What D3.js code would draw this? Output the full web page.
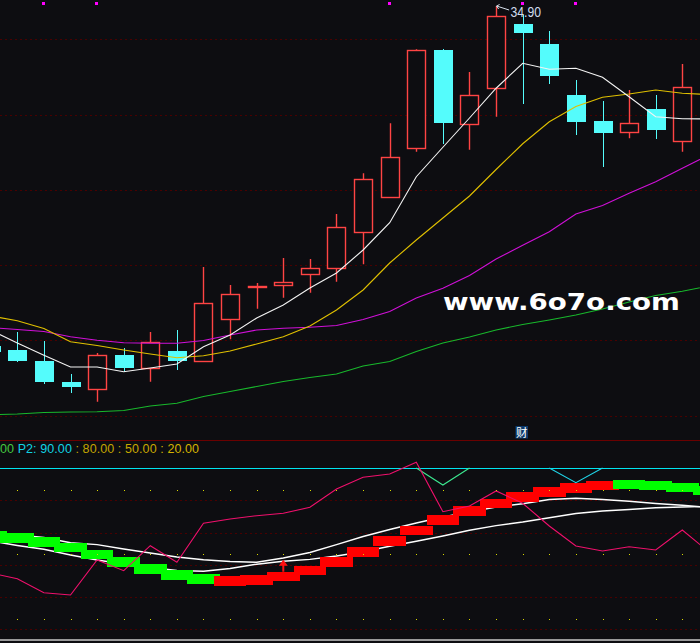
<!DOCTYPE html>
<html><head><meta charset="utf-8">
<script src="https://cdn.jsdelivr.net/npm/d3@7"></script>
<style>html,body{margin:0;padding:0;background:#0d0d11;overflow:hidden}svg{display:block}</style>
</head><body><svg id="c" width="700" height="643"></svg>
<script>
// ---------- data (bar index -1 .. 26) ----------
const bars = d3.range(-1, 27);
const open  = [21.30,21.14,20.70,19.86,19.57,20.94,20.39,21.10,20.69,22.37,23.66,23.73,24.17,24.41,25.85,27.25,29.21,33.14,30.17,31.61,34.18,33.38,31.34,30.30,29.85,30.78,29.49,31.62];
const high  = [21.54,21.86,21.50,20.18,21.02,21.22,21.86,21.94,24.46,23.74,23.82,24.82,24.78,26.58,28.21,30.21,33.17,33.17,32.26,34.90,34.54,33.90,31.94,31.10,31.54,31.34,32.58,31.94];
const low   = [20.90,20.67,19.79,19.43,19.07,20.25,19.87,20.35,20.66,21.57,22.79,23.23,23.43,23.87,24.57,27.22,29.07,29.39,29.15,30.47,30.99,31.79,29.75,28.47,29.61,29.59,29.07,29.94];
const close = [21.06,20.71,19.87,19.67,20.93,20.43,21.45,20.71,23.01,23.37,23.70,23.85,24.41,26.05,27.97,28.85,33.13,30.23,31.33,34.50,33.83,32.11,30.27,29.83,30.21,29.95,31.65,30.23];
const ma5   = [21.94,21.42,20.93,20.46,20.46,20.27,20.42,20.58,21.27,21.74,22.42,22.94,23.62,24.22,25.14,26.23,28.07,29.25,30.42,31.61,32.61,32.37,32.41,32.05,31.27,30.47,30.39,30.38];
const ma10  = [22.50,22.31,22.00,21.47,21.32,21.14,20.98,20.83,20.91,21.10,21.38,21.67,22.10,22.74,23.54,24.62,25.54,26.42,27.30,28.36,29.39,30.27,30.88,31.25,31.38,31.54,31.41,31.36];
const ma20  = [22.04,21.96,21.88,21.67,21.53,21.43,21.41,21.41,21.52,21.74,21.94,22.01,22.05,22.12,22.36,22.68,23.22,23.61,24.12,24.78,25.33,25.87,26.58,26.92,27.41,27.87,28.41,28.94];
const ma60  = [18.55,18.58,18.64,18.66,18.67,18.72,18.90,19.01,19.28,19.48,19.68,19.88,20.04,20.18,20.50,20.68,21.08,21.42,21.66,21.94,22.16,22.34,22.54,22.78,23.06,23.32,23.49,23.70];
const priceGrid = [33.57,30.56,27.55,24.54,21.53,18.52];
const signalBars = [1,3,14,19,21];

// lower indicator
const osc    = [41.19,38.53,32.02,30.95,47.23,42.26,53.88,46.16,64.30,66.30,67.84,68.95,71.74,80.26,85.70,87.23,92.67,69.70,72.35,79.33,73.60,63.05,53.74,51.42,53.42,51.88,61.19,50.95];
const slowL  = [56.07,54.00,52.21,49.56,47.23,45.37,43.74,42.35,41.98,43.28,45.28,46.63,47.51,49.09,51.09,53.60,55.98,58.40,61.09,63.23,64.91,66.91,68.86,70.02,70.72,71.51,71.88,72.12];
const fastL  = [59.33,58.86,57.70,55.28,54.40,52.35,50.49,48.63,47.37,46.53,46.16,48.16,50.72,54.35,58.16,61.42,64.44,67.23,69.56,71.88,73.42,75.37,75.93,75.37,74.53,73.51,72.67,71.65];
const bandHi = [60.72,59.65,57.93,55.14,51.88,48.63,45.37,42.58,40.72,39.79,40.26,41.79,44.44,48.63,53.14,58.40,63.05,68.16,72.35,75.60,78.86,81.19,83.05,83.98,84.44,83.98,83.05,81.65];
const bandLo = [55.28,55.28,53.42,50.95,47.70,44.12,40.86,37.93,36.21,35.28,35.60,37.33,40.26,44.12,48.77,53.88,58.86,63.51,67.70,71.42,74.21,76.53,78.53,79.93,80.40,79.79,78.86,77.47];
const bandUp = [0,0,0,0,0,0,0,0,0,1,1,1,1,1,1,1,1,1,1,1,1,1,1,1,0,0,0,0];
const capGreen = [null,null,null,null,null,null,null,null,null,null,null,null,null,null,null,null,90,82.1,90,null,null,null,null,null,null,null,null,null];
const capCyan  = [null,null,null,null,null,null,null,null,null,null,null,null,null,null,null,null,null,null,null,null,null,90,83.2,90,null,null,null,null];
const levelLine = 90;
const levelDots = [80,50,20];
const oscGrid = [75,60,45,30,15];
const arrowBars = [10];
const legendParts = [["00","#44c840"],[" P2: 90.00","#10d4e4"],[" : 80.00","#c4a400"],[" : 50.00","#c8a800"],[" : 20.00","#d4b400"]];

// ---------- scales ----------
const W = 700, BG = "#0d0d11";
const x = d3.scaleLinear().domain([-1, 26]).range([-9.3, 708.9]);
const yP = d3.scaleLinear().domain([18, 35.14]).range([428.5, 0]);
const yI = d3.scaleLinear().domain([0, 100]).range([661.55, 446.55]);
const step = x(1) - x(0);
const svg = d3.select("#c");
svg.append("rect").attr("width", W).attr("height", 643).attr("fill", BG);

const defs = svg.append("defs");
defs.append("clipPath").attr("id","topClip").append("rect").attr("x",0).attr("y",0).attr("width",W).attr("height",439);
defs.append("clipPath").attr("id","botClip").append("rect").attr("x",0).attr("y",441).attr("width",W).attr("height",198);

const gTop = svg.append("g").attr("clip-path","url(#topClip)");
const gBot = svg.append("g").attr("clip-path","url(#botClip)");
const px = v => Math.round(v) + 0.5;
const GRID = "#4a0000";

// ---------- top panel ----------
gTop.selectAll(".pg").data(priceGrid).join("line")
  .attr("x1",0).attr("x2",W).attr("y1",d=>px(yP(d))).attr("y2",d=>px(yP(d)))
  .attr("stroke",GRID).attr("stroke-dasharray","2,3").attr("shape-rendering","crispEdges");

const candles = gTop.append("g");
bars.forEach((b, k) => {
  const cx = px(x(b));
  const up = close[k] >= open[k];
  const yT = yP(Math.max(open[k], close[k])), yB = yP(Math.min(open[k], close[k]));
  if (up) {
    const col = "#ff4444";
    candles.append("line").attr("x1",cx).attr("x2",cx).attr("y1",yP(high[k])).attr("y2",yT).attr("stroke",col).attr("stroke-width",1.4);
    candles.append("line").attr("x1",cx).attr("x2",cx).attr("y1",yB).attr("y2",yP(low[k])).attr("stroke",col).attr("stroke-width",1.4);
    candles.append("rect").attr("x",cx-9).attr("width",18).attr("y",Math.round(yT)+0.5)
      .attr("height",Math.max(1,Math.round(yB-yT))).attr("fill",BG).attr("stroke",col).attr("stroke-width",1.4);
  } else {
    const col = "#54fcfc";
    candles.append("line").attr("x1",cx).attr("x2",cx).attr("y1",yP(high[k])).attr("y2",yP(low[k])).attr("stroke",col).attr("shape-rendering","crispEdges");
    candles.append("rect").attr("x",cx-9.5).attr("width",19).attr("y",yT)
      .attr("height",Math.max(1,yB-yT)).attr("fill",col).attr("shape-rendering","crispEdges");
  }
});

const lineP = d3.line().x((d,k)=>x(bars[k])).y(d=>yP(d));
[[ma60,"#18b82c"],[ma20,"#d010d8"],[ma10,"#e0c000"],[ma5,"#f4f4f4"]].forEach(([s,c])=>{
  gTop.append("path").attr("d",lineP(s)).attr("fill","none").attr("stroke",c).attr("stroke-width",1.1);
});

// signal dots
gTop.selectAll(".sig").data(signalBars).join("rect")
  .attr("x",d=>Math.round(x(d))-2).attr("y",2).attr("width",3).attr("height",3).attr("fill","#ff00ff");

// max label
const hiK = d3.maxIndex(high);
const hx = x(bars[hiK]), hy = yP(high[hiK]);
gTop.append("path").attr("d",`M${hx+13},${hy+4}L${hx+0.5},${hy}M${hx+3.5},${hy-1.5}L${hx+0.5},${hy}L${hx+2.5},${hy+3}`)
  .attr("stroke","#d8e0ec").attr("fill","none").attr("stroke-width",1);
gTop.append("text").attr("x",hx+14.4).attr("y",hy+11.2).attr("fill","#d0dcee")
  .attr("font-family","Liberation Sans, Arial, sans-serif").attr("font-size",15)
  .attr("textLength",30.5).attr("lengthAdjust","spacingAndGlyphs").text(d3.format(".2f")(high[hiK]));

// watermark
gTop.append("text").attr("x",443).attr("y",310).attr("fill","#ffffff")
  .attr("font-family","DejaVu Sans, sans-serif").attr("font-weight","bold").attr("font-size",23)
  .attr("textLength",237).attr("lengthAdjust","spacingAndGlyphs").text("www.6o7o.com");

// 财 badge
svg.append("rect").attr("x",515.5).attr("y",426).attr("width",12.5).attr("height",12.5).attr("fill","#0c3a6c");
svg.append("text").attr("x",521.7).attr("y",437).attr("text-anchor","middle").attr("fill","#ffffff")
  .attr("font-family","Noto Sans CJK SC, sans-serif").attr("font-size",11.5).text("财");

// separator
svg.append("line").attr("x1",0).attr("x2",W).attr("y1",440.5).attr("y2",440.5).attr("stroke","#6a0000");

// ---------- lower panel ----------
gBot.selectAll(".og").data(oscGrid).join("line")
  .attr("x1",0).attr("x2",W).attr("y1",d=>px(yI(d))).attr("y2",d=>px(yI(d)))
  .attr("stroke",GRID).attr("stroke-dasharray","2,3").attr("shape-rendering","crispEdges");

gBot.append("line").attr("x1",0).attr("x2",W).attr("y1",px(yI(levelLine))).attr("y2",px(yI(levelLine)))
  .attr("stroke","#00e4f0").attr("stroke-width",1.2);

const lineI = d3.line().defined(d=>d!=null).x((d,k)=>x(bars[k])).y(d=>yI(d));
gBot.append("path").attr("d",lineI(slowL)).attr("fill","none").attr("stroke","#ffffff").attr("stroke-width",1.4);
gBot.append("path").attr("d",lineI(fastL)).attr("fill","none").attr("stroke","#ffffff").attr("stroke-width",1.4);

const bw = step * 1.23;
gBot.append("g").attr("shape-rendering","crispEdges").selectAll("rect").data(bars).join("rect")
  .attr("x",(b)=>x(b)-bw/2).attr("width",bw)
  .attr("y",(b,k)=>yI(bandHi[k])).attr("height",(b,k)=>yI(bandLo[k])-yI(bandHi[k]))
  .attr("fill",(b,k)=>bandUp[k] ? "#ff0000" : "#00ff00");

// arrows
arrowBars.forEach(b=>{
  const k = bars.indexOf(b);
  const ax = x(b), ay = yI(bandHi[k]);
  gBot.append("path").attr("d",`M${ax-1},${ay}V${ay-6}H${ax-4.5}L${ax},${ay-12}L${ax+4.5},${ay-6}H${ax+1}V${ay}Z`).attr("fill","#ff1010");
});

gBot.append("path").attr("d",lineI(capGreen)).attr("fill","none").attr("stroke","#3ce890").attr("stroke-width",1.1);
gBot.append("path").attr("d",lineI(capCyan)).attr("fill","none").attr("stroke","#20d4e8").attr("stroke-width",1.1);
gBot.append("path").attr("d",lineI(osc)).attr("fill","none").attr("stroke","#f0106c").attr("stroke-width",1.1);

// level dots
levelDots.forEach(v=>{
  gBot.selectAll(null).data(bars).join("rect")
    .attr("x",b=>Math.round(x(b))).attr("y",Math.round(yI(v))).attr("width",1).attr("height",1).attr("fill","#d8d800");
});

// legend text
const lg = svg.append("text").attr("x",0).attr("y",453).attr("font-family","Liberation Sans, Arial, sans-serif")
  .attr("font-size",12.5).attr("textLength",199).attr("lengthAdjust","spacing");
legendParts.forEach(([t,c])=> lg.append("tspan").attr("fill",c).text(t));

// bottom border
svg.append("line").attr("x1",0).attr("x2",W).attr("y1",640).attr("y2",640).attr("stroke","#c8c8c8").attr("stroke-width",1.3);
</script></body></html>
